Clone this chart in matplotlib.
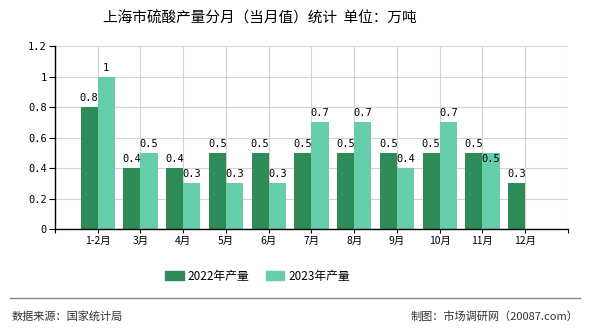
import numpy as np
import matplotlib
matplotlib.use("Agg")
import matplotlib.pyplot as plt
from matplotlib.lines import Line2D
from matplotlib.patches import Patch

plt.rcParams['font.family'] = ['Noto Sans CJK SC', 'DejaVu Sans']

# 数据
months = ['1-2月', '3月', '4月', '5月', '6月', '7月', '8月', '9月', '10月', '11月', '12月']
prod_2022 = [0.8, 0.4, 0.4, 0.5, 0.5, 0.5, 0.5, 0.5, 0.5, 0.5, 0.3]
prod_2023 = [1, 0.5, 0.3, 0.3, 0.3, 0.7, 0.7, 0.4, 0.7, 0.5, None]
yticks = [0, 0.2, 0.4, 0.6, 0.8, 1, 1.2]

c22 = '#2e8b57'
c23 = '#66cdaa'

fig = plt.figure(figsize=(5.9, 3.3), dpi=100)
ax = fig.add_axes([0.0932, 0.306, 0.8695, 0.5546])

x = np.arange(1, len(months) + 1)
w = 0.4
mono = ['DejaVu Sans Mono']
for xi, v in zip(x, prod_2022):
    if v is None:
        continue
    ax.bar(xi - w / 2, v, w, color=c22, zorder=3)
    ax.text(xi - w / 2, v + 0.025, f'{v:g}', ha='center', va='bottom', fontsize=7.5,
            family=mono, zorder=4)
for xi, v, v0 in zip(x, prod_2023, prod_2022):
    if v is None:
        continue
    ax.bar(xi + w / 2, v, w, color=c23, zorder=3)
    # 与左侧标签重叠时下移
    if v0 is not None and abs(v - v0) < 0.05:
        ax.text(xi + w / 2, v - 0.01, f'{v:g}', ha='center', va='top', fontsize=7.5,
                family=mono, zorder=4)
    else:
        ax.text(xi + w / 2, v + 0.025, f'{v:g}', ha='center', va='bottom', fontsize=7.5,
                family=mono, zorder=4)

ax.set_xlim(0, len(months) + 1)
ax.set_ylim(0, 1.2)
ax.set_xticks(x)
ax.set_xticklabels(months, fontsize=7.5)
ax.set_xticks([0, len(months) + 1], minor=True)
ax.tick_params(axis='x', which='both', length=3, width=0.8, pad=2)
ax.set_yticks(yticks)
ax.set_yticklabels([f'{t:g}' for t in yticks], fontsize=7.5, family=mono)
ax.tick_params(axis='y', length=4, width=0.8, pad=2)

ax.grid(True, which='major', color='#d3d3d3', linewidth=0.8, zorder=0)
ax.axvline(len(months) + 1, color='#d3d3d3', linewidth=0.8, zorder=0)
for s in ['top', 'right']:
    ax.spines[s].set_visible(False)
for s in ['left', 'bottom']:
    ax.spines[s].set_linewidth(1.0)
    ax.spines[s].set_zorder(5)

fig.text(0.44, 0.945, '上海市硫酸产量分月（当月值）统计  单位：万吨', ha='center', va='center',
         fontsize=10.5)

handles = [Patch(color=c22), Patch(color=c23)]
fig.legend(handles, ['2022年产量', '2023年产量'], loc='center', bbox_to_anchor=(0.436, 0.163),
           ncol=2, frameon=False, fontsize=8.5, handlelength=1.6, handleheight=0.7,
           columnspacing=1.4, handletextpad=0.3)

fig.add_artist(Line2D([0.017, 0.983], [0.097, 0.097], color='#888888', linewidth=1.0))
fig.text(0.02, 0.04, '数据来源：国家统计局', ha='left', va='center', fontsize=8, color='#333333')
fig.text(0.98, 0.04, '制图：市场调研网（20087.com）', ha='right', va='center', fontsize=8,
         color='#333333')

fig.savefig('out.png', dpi=100)
